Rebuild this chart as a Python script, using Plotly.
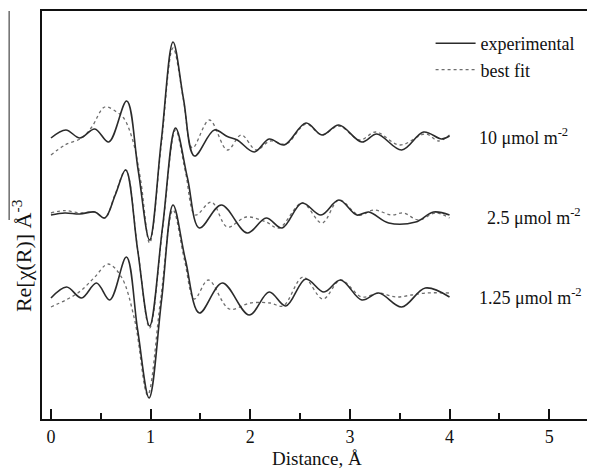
import plotly.graph_objects as go

# distance (Angstrom) and Re[chi(R)] values, each curve relative to its own zero
r_10_exp = [0.0, 0.15, 0.29, 0.44, 0.58, 0.76, 0.875, 0.99, 1.107, 1.225, 1.33, 1.44, 1.64,
            1.77, 1.87, 2.04, 2.19, 2.34, 2.56, 2.72, 2.89, 3.12, 3.27, 3.52, 3.74, 3.92, 4.0]
v_10_exp = [-0.1, 0.3, -0.1, 0.35, -0.3, 1.75, -1.7, -5.2, -0.25, 4.7, 1.85, -1.0, 0.3,
            -0.03, -0.2, -0.8, -0.15, -0.45, 0.65, 0.05, 0.55, -0.3, 0.1, -0.7, 0.2, -0.15, 0.0]
r_10_fit = [0.0, 0.14, 0.31, 0.41, 0.54, 0.66, 0.73, 0.82, 0.9, 0.99, 1.107, 1.225, 1.33, 1.42,
            1.59, 1.77, 1.91, 2.06, 2.2, 2.36, 2.56, 2.72, 2.89, 3.1, 3.26, 3.5, 3.76, 3.89, 4.0]
v_10_fit = [-0.95, -0.45, -0.1, 0.45, 1.45, 1.2, 0.9, -0.2, -2.2, -5.35, -0.45, 4.4, 1.8, -0.6,
            0.8, -0.7, 0.05, -0.7, -0.25, -0.4, 0.6, 0.05, 0.5, -0.2, 0.2, -0.45, 0.1, -0.25, 0.05]

r_25_exp = [0.0, 0.14, 0.29, 0.44, 0.54, 0.645, 0.75, 0.87, 0.99, 1.12, 1.25, 1.37, 1.49, 1.71,
            1.97, 2.16, 2.32, 2.52, 2.71, 2.89, 3.07, 3.19, 3.39, 3.66, 3.84, 4.0]
v_25_exp = [0.05, 0.15, 0.1, 0.2, -0.1, 1.05, 2.3, -1.7, -5.5, -0.55, 4.4, 1.9, -0.6, 0.55,
            -0.85, -0.1, -0.6, 0.65, 0.05, 0.8, 0.05, 0.2, -0.35, -0.3, 0.2, 0.05]
r_25_fit = [0.0, 0.14, 0.29, 0.44, 0.54, 0.645, 0.75, 0.87, 0.99, 1.12, 1.25, 1.35, 1.45, 1.61,
            1.77, 1.96, 2.16, 2.29, 2.52, 2.72, 2.89, 3.09, 3.24, 3.42, 3.54, 3.69, 3.86, 4.0]
v_25_fit = [0.15, 0.27, 0.15, 0.2, -0.1, 1.1, 2.3, -1.65, -5.6, -0.65, 4.3, 2.2, 0.05, 0.7,
            -0.55, -0.05, -0.3, -0.6, 0.65, -0.35, 0.8, 0.05, 0.3, 0.05, 0.15, -0.2, 0.15, -0.1]

r_125_exp = [0.0, 0.157, 0.307, 0.457, 0.59, 0.757, 0.87, 0.985, 1.11, 1.225, 1.35, 1.49, 1.72,
             1.99, 2.19, 2.357, 2.557, 2.74, 2.907, 3.12, 3.29, 3.52, 3.757, 4.0]
v_125_exp = [-0.1, 0.45, -0.1, 0.65, -0.2, 1.95, -1.7, -5.1, -0.2, 4.55, 1.8, -0.85, 0.65,
             -0.95, 0.2, -0.5, 0.85, 0.2, 0.8, -0.2, 0.15, -0.55, 0.4, -0.05]
r_125_fit = [0.0, 0.27, 0.44, 0.573, 0.707, 0.84, 0.97, 1.1, 1.225, 1.34, 1.44, 1.58, 1.79, 2.0,
             2.2, 2.33, 2.53, 2.73, 2.907, 3.12, 3.29, 3.46, 3.62, 3.757, 4.0]
v_125_fit = [-0.55, 0.15, 0.95, 1.6, 0.95, -1.2, -4.95, -0.2, 4.3, 1.8, -0.15, 0.8, -0.65, -0.35,
             -0.35, -0.5, 0.95, -0.15, 0.8, -0.05, 0.15, -0.05, 0.05, 0.15, 0.15]

# vertical offsets used to stack the three coverages
offsets = {"10": 4.0, "2.5": 0.0, "1.25": -4.0}
labels = ["10 \u03bcmol m<sup>-2</sup>", "2.5 \u03bcmol m<sup>-2</sup>", "1.25 \u03bcmol m<sup>-2</sup>"]

series = [
    ("10", r_10_exp, v_10_exp, r_10_fit, v_10_fit),
    ("2.5", r_25_exp, v_25_exp, r_25_fit, v_25_fit),
    ("1.25", r_125_exp, v_125_exp, r_125_fit, v_125_fit),
]

font_family = "Liberation Serif, Times New Roman, serif"

# the page body adds an 8px margin, so the figure is drawn 8px smaller
fig_w, fig_h = 587, 460
plot_left, plot_w, plot_h = 42, 552, 408  # plot area in window pixels

fig = go.Figure()

for i, (key, r_exp, v_exp, r_fit, v_fit) in enumerate(series):
    off = offsets[key]
    # best fit first so the experimental line sits on top
    fig.add_trace(
        go.Scatter(
            x=r_fit,
            y=[v + off for v in v_fit],
            mode="lines",
            line=dict(color="#6e6e6e", width=1.3, dash="dot", shape="spline", smoothing=1.0),
            name="best fit",
            legendgroup="fit",
            showlegend=(i == 0),
            legendrank=2,
        )
    )
    fig.add_trace(
        go.Scatter(
            x=r_exp,
            y=[v + off for v in v_exp],
            mode="lines",
            line=dict(color="#2b2b2b", width=1.6, shape="spline", smoothing=1.0),
            name="experimental",
            legendgroup="exp",
            showlegend=(i == 0),
            legendrank=1,
        )
    )

# sample labels on the right
label_pos = [(479, 4.0), (487, 0.0), (479, -4.0)]
for text, (px, yv) in zip(labels, label_pos):
    fig.add_annotation(
        x=(px - plot_left) / plot_w,
        xref="paper",
        y=yv,
        yref="y",
        text=text,
        showarrow=False,
        xanchor="left",
        yanchor="middle",
        font=dict(family=font_family, size=18, color="#111111"),
    )

# y axis title (rotated)
fig.add_annotation(
    x=(22 - plot_left) / plot_w,
    xref="paper",
    y=(419 - 256) / plot_h,
    yref="paper",
    text="Re[\u03c7(R)] \u00c5<sup>-3</sup>",
    textangle=-90,
    showarrow=False,
    xanchor="center",
    yanchor="middle",
    font=dict(family=font_family, size=22, color="#111111"),
)

# x axis title
fig.add_annotation(
    x=0.5,
    xref="paper",
    y=(419 - 458) / plot_h,
    yref="paper",
    text="Distance, \u00c5",
    showarrow=False,
    xanchor="center",
    yanchor="middle",
    font=dict(family=font_family, size=19, color="#111111"),
)

# the stray overline that runs up from the y label
fig.add_shape(
    type="line",
    xref="paper",
    yref="paper",
    x0=(9 - plot_left) / plot_w,
    x1=(9 - plot_left) / plot_w,
    y0=(419 - 220) / plot_h,
    y1=1.0,
    line=dict(color="#222222", width=1),
)

fig.update_layout(
    width=fig_w,
    height=fig_h,
    margin=dict(l=34, r=1, t=3, b=49),
    plot_bgcolor="white",
    paper_bgcolor="white",
    font=dict(family=font_family, size=18, color="#111111"),
    xaxis=dict(
        range=[-0.09, 5.43],
        tickvals=[0, 1, 2, 3, 4, 5],
        ticks="inside",
        ticklen=10,
        tickwidth=1.5,
        tickcolor="#111111",
        minor=dict(tickvals=[0.5, 1.5, 2.5, 3.5, 4.5], ticks="inside", ticklen=6,
                   tickwidth=1.5, tickcolor="#111111"),
        showline=True,
        linecolor="#111111",
        linewidth=1.8,
        mirror=True,
        showgrid=False,
        zeroline=False,
        tickfont=dict(size=18),
        ticklabelstandoff=0,
    ),
    yaxis=dict(
        range=[-10.15, 10.25],
        showticklabels=False,
        ticks="",
        showline=True,
        linecolor="#111111",
        linewidth=1.8,
        mirror=True,
        showgrid=False,
        zeroline=False,
    ),
    legend=dict(
        x=(432 - plot_left) / plot_w,
        y=(419 - 25) / plot_h,
        xanchor="left",
        yanchor="top",
        bgcolor="rgba(0,0,0,0)",
        font=dict(size=18),
        itemwidth=40,
        tracegroupgap=0,
    ),
)

fig.write_html("out.html")
